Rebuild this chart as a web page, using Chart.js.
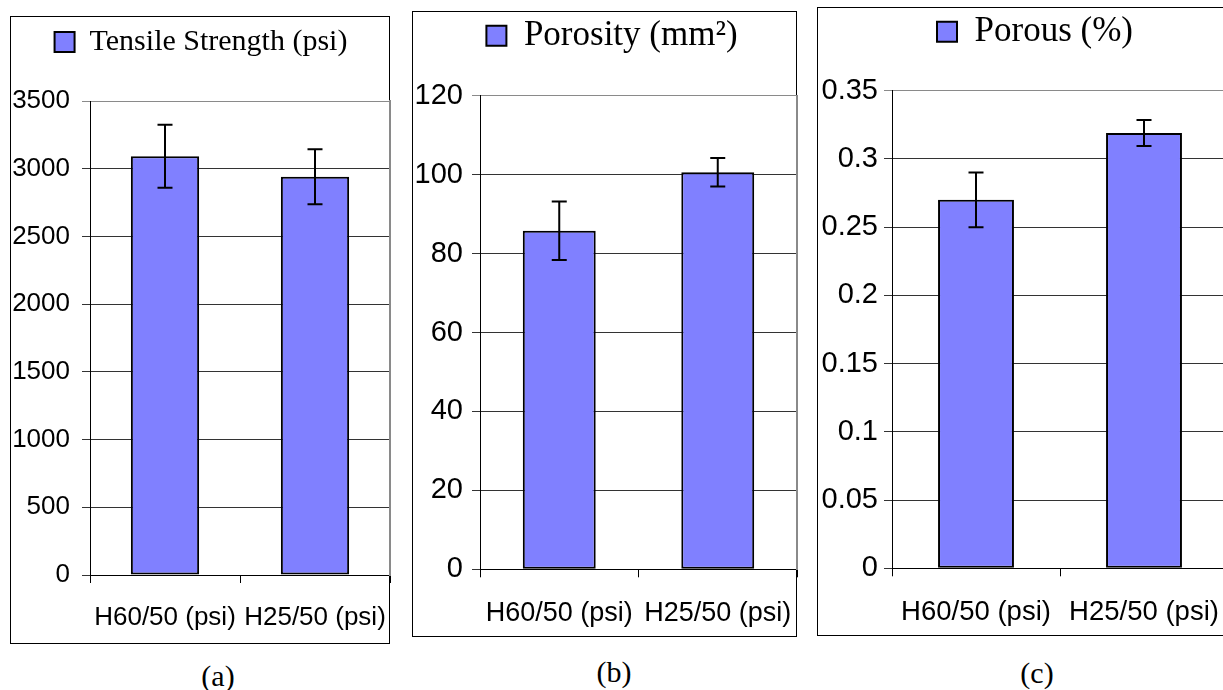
<!DOCTYPE html>
<html>
<head>
<meta charset="utf-8">
<script src="https://cdn.jsdelivr.net/npm/chart.js@4.4.1/dist/chart.umd.min.js"></script>
<style>
  html, body { margin: 0; padding: 0; background: #fff; overflow: hidden; width: 1223px; height: 690px; }
  .frame { position: absolute; border: 1.5px solid #000; box-sizing: border-box; }
  canvas { position: absolute; top: 0; }
  .cap { position: absolute; width: 60px; text-align: center; line-height: 30px;
         font-family: 'Liberation Serif', 'Times New Roman', serif; font-size: 30px; color: #000; }
</style>
</head>
<body>
<div class="frame" style="left:10px;top:16px;width:380px;height:628px"></div>
<div class="frame" style="left:412px;top:11px;width:385px;height:626px"></div>
<div class="frame" style="left:817px;top:7px;width:430px;height:629px"></div>

<canvas id="chartTensile" width="438" height="650" style="left:-18px"></canvas>
<canvas id="chartPorosity" width="414" height="650" style="left:405px"></canvas>
<canvas id="chartPorous" width="446" height="650" style="left:812px"></canvas>

<div class="cap" style="left:188px;top:661px">(a)</div>
<div class="cap" style="left:584px;top:657px">(b)</div>
<div class="cap" style="left:1007px;top:658px">(c)</div>

<script>
// Dados
const categories = ['H60/50 (psi)', 'H25/50 (psi)'];

const tensile = [3092, 2940];
const tensileErr = [233, 203];
const tensileTicks = [0, 500, 1000, 1500, 2000, 2500, 3000, 3500];

const porosity = [85.8, 100.6];
const porosityErr = [7.4, 3.6];
const porosityTicks = [0, 20, 40, 60, 80, 100, 120];

const porous = [0.27, 0.319];
const porousErr = [0.02, 0.0095];
const porousTicks = [0, 0.05, 0.1, 0.15, 0.2, 0.25, 0.3, 0.35];

// Barras de erro (desvio) desenhadas sobre cada barra
const errorBars = {
  id: 'errorBars',
  afterDatasetsDraw(chart) {
    const ds = chart.data.datasets[0];
    const meta = chart.getDatasetMeta(0);
    const y = chart.scales.y;
    const ctx = chart.ctx;
    ctx.save();
    ctx.strokeStyle = '#000';
    ctx.lineWidth = 2;
    meta.data.forEach(function(bar, i) {
      const top = y.getPixelForValue(ds.data[i] + ds.errors[i]);
      const bot = y.getPixelForValue(ds.data[i] - ds.errors[i]);
      ctx.beginPath();
      ctx.moveTo(bar.x, top); ctx.lineTo(bar.x, bot);
      ctx.moveTo(bar.x - 7.5, top); ctx.lineTo(bar.x + 7.5, top);
      ctx.moveTo(bar.x - 7.5, bot); ctx.lineTo(bar.x + 7.5, bot);
      ctx.stroke();
    });
    ctx.restore();
  }
};

function barChart(id, p) {
  const yMax = p.ticks[p.ticks.length - 1];
  return new Chart(document.getElementById(id), {
    type: 'bar',
    data: {
      labels: categories,
      datasets: [{
        label: p.label,
        data: p.values,
        errors: p.errors,
        backgroundColor: '#8080FF',
        borderColor: '#000',
        borderWidth: 2,
        borderSkipped: false,
        categoryPercentage: 1,
        barPercentage: p.barPct
      }]
    },
    options: {
      responsive: false,
      animation: false,
      layout: { padding: { left: 0, right: 0, top: p.padTop, bottom: 0 } },
      plugins: {
        legend: {
          position: 'top',
          labels: {
            font: { family: 'Liberation Serif', size: p.legendSize },
            color: '#000',
            boxWidth: 20,
            boxHeight: 20,
            padding: 10
          }
        },
        tooltip: { enabled: false }
      },
      scales: {
        x: {
          position: 'bottom',
          grid: { drawOnChartArea: false, tickLength: 8, color: '#000', offset: true },
          border: { color: '#000', width: 1 },
          ticks: { font: { family: 'Liberation Sans', size: p.xSize }, color: '#000', padding: p.xPad, maxRotation: 0, autoSkip: false },
          afterFit: function(s) { s.height = p.xHeight; }
        },
        x2: {
          type: 'category',
          position: 'top',
          grid: { display: false },
          border: { display: false },
          ticks: { display: false },
          afterFit: function(s) { s.height = p.topGap; }
        },
        y: {
          min: 0,
          max: yMax,
          grid: {
            tickLength: 8,
            color: function(c) { return c.tick && c.tick.value === yMax ? '#8a8a8a' : '#333'; }
          },
          border: { color: '#000', width: 1 },
          ticks: {
            font: { family: 'Liberation Sans', size: p.ySize },
            color: '#000',
            padding: p.yPad,
            callback: function(v) { return String(v); }
          },
          afterBuildTicks: function(s) { s.ticks = p.ticks.map(function(v) { return { value: v }; }); },
          afterFit: function(s) { s.width = p.yWidth; }
        },
        y2: {
          position: 'right',
          grid: { drawOnChartArea: false, drawTicks: false },
          border: { color: '#8a8a8a', width: 2 },
          ticks: { display: false },
          afterFit: function(s) { s.width = p.rightGap; }
        }
      }
    },
    plugins: [errorBars]
  });
}

// (a) Resistência à tração
barChart('chartTensile', {
  label: 'Tensile Strength (psi)',
  values: tensile, errors: tensileErr, ticks: tensileTicks,
  barPct: 0.455, legendSize: 30, padTop: 17, topGap: 34,
  yWidth: 108, ySize: 26, yPad: 12, rightGap: 30,
  xHeight: 75, xSize: 26, xPad: 19
});

// (b) Porosidade
barChart('chartPorosity', {
  label: 'Porosity (mm²)',
  values: porosity, errors: porosityErr, ticks: porosityTicks,
  barPct: 0.46, legendSize: 35, padTop: 8.2, topGap: 32.5,
  yWidth: 75, ySize: 29, yPad: 9, rightGap: 22,
  xHeight: 80.7, xSize: 27, xPad: 20.5
});

// (c) Poros (%)
barChart('chartPorous', {
  label: 'Porous (%)',
  values: porous, errors: porousErr, ticks: porousTicks,
  barPct: 0.452, legendSize: 35, padTop: 4.2, topGap: 31.5,
  yWidth: 80, ySize: 29, yPad: 6, rightGap: 30,
  xHeight: 81.7, xSize: 27.5, xPad: 20
});
</script>
</body>
</html>
